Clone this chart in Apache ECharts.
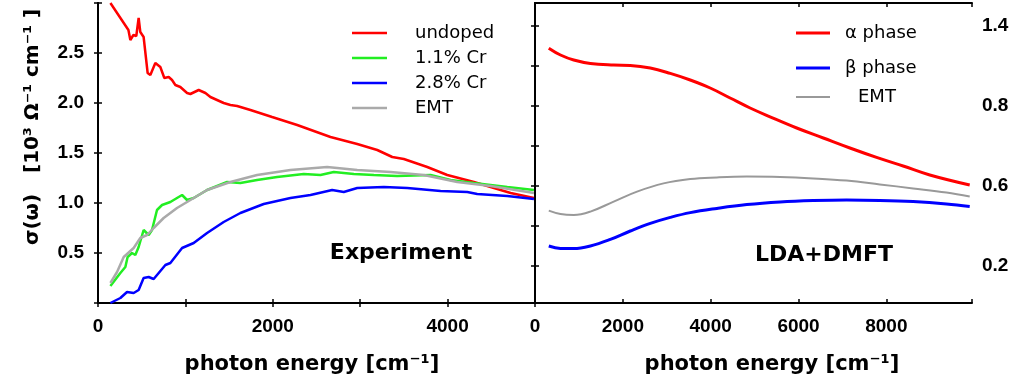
<!DOCTYPE html>
<html>
<head>
<meta charset="utf-8">
<script src="https://cdn.jsdelivr.net/npm/echarts@6/dist/echarts.min.js"></script>
<style>
  html, body { margin: 0; padding: 0; background: #fff; }
  #container { width: 1024px; height: 387px; }
</style>
</head>
<body>
<div id="container"></div>
<script>
var myChart = echarts.init(document.getElementById('container'));

// left panel: measured optical conductivity (energy in cm^-1, sigma in 10^3 / Ohm cm)
var undopedE = [142, 348, 370, 405, 438, 465, 484, 522, 568, 599, 656, 713, 759, 809, 847, 885, 942, 1019, 1057, 1152,
  1229, 1286, 1438, 1515, 1592, 1744, 1992, 2279, 2660, 2966, 3195, 3367, 3499, 3767, 3996, 4301, 4492, 4721, 4988];
var undopedS = [3.00, 2.73, 2.63, 2.68, 2.67, 2.85, 2.71, 2.66, 2.30, 2.28, 2.40, 2.36, 2.25, 2.26, 2.23, 2.18, 2.16, 2.10, 2.09, 2.13,
  2.10, 2.06, 2.00, 1.98, 1.97, 1.93, 1.86, 1.78, 1.66, 1.59, 1.53, 1.46, 1.44, 1.36, 1.28, 1.21, 1.16, 1.10, 1.05];

var cr11E = [142, 256, 313, 339, 389, 427, 465, 522, 580, 618, 675, 733, 828, 904, 962, 1019, 1095, 1248, 1477, 1629,
  1820, 2049, 2354, 2545, 2698, 2927, 3156, 3423, 3805, 4034, 4301, 4683, 4988];
var cr11S = [0.17, 0.30, 0.36, 0.46, 0.50, 0.48, 0.56, 0.73, 0.68, 0.73, 0.93, 0.98, 1.01, 1.05, 1.08, 1.03, 1.05, 1.13, 1.21, 1.20,
  1.23, 1.26, 1.29, 1.28, 1.31, 1.29, 1.28, 1.27, 1.28, 1.23, 1.20, 1.16, 1.13];

var cr28E = [142, 256, 332, 408, 465, 522, 580, 637, 771, 828, 962, 1095, 1248, 1438, 1629, 1896, 2202, 2431, 2679, 2812,
  2966, 3271, 3538, 3920, 4225, 4339, 4683, 4988];
var cr28S = [0.00, 0.05, 0.11, 0.10, 0.13, 0.25, 0.26, 0.24, 0.38, 0.40, 0.55, 0.60, 0.70, 0.81, 0.90, 0.99, 1.05, 1.08, 1.13, 1.11,
  1.15, 1.16, 1.15, 1.12, 1.11, 1.09, 1.07, 1.04];

var emtExpE = [142, 218, 294, 408, 484, 561, 637, 751, 904, 1057, 1248, 1515, 1820, 2202, 2622, 2966, 3347, 3728, 4110, 4492, 4988];
var emtExpS = [0.20, 0.31, 0.46, 0.55, 0.65, 0.68, 0.75, 0.85, 0.95, 1.03, 1.13, 1.21, 1.28, 1.33, 1.36, 1.33, 1.31, 1.28, 1.21, 1.17, 1.10];

// right panel: LDA+DMFT
var alphaE = [314, 580, 882, 1261, 1791, 2170, 2625, 3080, 3534, 3989, 4443, 4898, 5352, 5959, 6564, 7170, 7777, 8382, 8989, 9898];
var alphaS = [1.289, 1.255, 1.23, 1.213, 1.205, 1.203, 1.19, 1.163, 1.13, 1.09, 1.04, 0.99, 0.946, 0.89, 0.84, 0.79, 0.743, 0.70, 0.655, 0.605];

var betaE = [314, 580, 882, 1261, 1716, 2170, 2625, 3080, 3534, 4141, 4823, 5580, 6336, 7095, 7852, 8609, 9368, 9898];
var betaS = [0.30, 0.288, 0.287, 0.30, 0.333, 0.375, 0.413, 0.443, 0.467, 0.488, 0.507, 0.52, 0.527, 0.53, 0.528, 0.522, 0.51, 0.497];

var emtThE = [314, 580, 882, 1261, 1791, 2323, 2927, 3534, 4141, 4823, 5580, 6336, 7095, 7852, 8609, 9368, 9898];
var emtThS = [0.477, 0.46, 0.455, 0.472, 0.522, 0.572, 0.613, 0.635, 0.643, 0.647, 0.645, 0.638, 0.627, 0.608, 0.588, 0.567, 0.547];

// tick labels
var leftXLabels = [0, 2000, 4000];
var rightXLabels = [0, 2000, 4000, 6000, 8000];
var leftYLabels = [0.5, 1.0, 1.5, 2.0, 2.5];
var rightYTicks = [0.2, 0.4, 0.6, 0.8, 1.0, 1.2, 1.4];
var rightYLabelValues = [0.2, 0.6, 1.0, 1.4];
var rightYLabelTexts = ['0.2', '0.6', '0.8', '1.4'];

function zip(xs, ys) {
  return xs.map(function(x, i) { return [x, ys[i]]; });
}
function inList(list, v) {
  return list.some(function(t) { return Math.abs(t - v) < 1e-6; });
}

var tickFont = 'Liberation Sans';
var textFont = 'DejaVu Sans';

function frameAxis(extra) {
  var base = {
    type: 'value',
    axisLine: { show: true, lineStyle: { color: '#000', width: 2 } },
    axisTick: { show: true, inside: true, length: 4, lineStyle: { color: '#000', width: 1.5 } },
    axisLabel: { show: false },
    splitLine: { show: false }
  };
  return Object.assign(base, extra);
}

var labelStyle = { color: '#000', fontFamily: tickFont, fontWeight: 'bold', fontSize: 19 };

function lineSeries(name, xi, yi, data, color, width, smooth) {
  return {
    name: name, type: 'line', xAxisIndex: xi, yAxisIndex: yi,
    data: data, showSymbol: false, smooth: smooth, animation: false,
    lineStyle: { color: color, width: width }, itemStyle: { color: color }
  };
}

function legendEntry(x1, x2, y, color, width, tx, text) {
  return [
    { type: 'line', shape: { x1: x1, y1: y, x2: x2, y2: y }, style: { stroke: color, lineWidth: width } },
    { type: 'text', x: tx, y: y, style: { text: text, font: '18px "DejaVu Sans"', fill: '#000',
      align: 'left', verticalAlign: 'middle', textAlign: 'left', textVerticalAlign: 'middle' } }
  ];
}

function centerText(x, y, text, font, rot) {
  return { type: 'text', x: x, y: y, rotation: rot || 0,
    style: { text: text, font: font, fill: '#000',
      align: 'center', verticalAlign: 'middle', textAlign: 'center', textVerticalAlign: 'middle' } };
}

var graphics = []
  .concat(legendEntry(352, 387, 33, '#ff0000', 2.5, 415, 'undoped'))
  .concat(legendEntry(352, 387, 58, '#22ee22', 2.5, 415, '1.1% Cr'))
  .concat(legendEntry(352, 387, 83, '#0000ff', 2.5, 415, '2.8% Cr'))
  .concat(legendEntry(352, 387, 108, '#aaaaaa', 2.5, 415, 'EMT'))
  .concat(legendEntry(796, 830, 33, '#ff0000', 3, 845, 'α phase'))
  .concat(legendEntry(796, 830, 68, '#0000ff', 3, 845, 'β phase'))
  .concat(legendEntry(796, 830, 97, '#999999', 2, 858, 'EMT'))
  .concat([
    centerText(401, 253, 'Experiment', 'bold 22px "DejaVu Sans"'),
    centerText(824, 255, 'LDA+DMFT', 'bold 22px "DejaVu Sans"'),
    centerText(312, 365, 'photon energy [cm⁻¹]', 'bold 21px "DejaVu Sans"'),
    centerText(772, 365, 'photon energy [cm⁻¹]', 'bold 21px "DejaVu Sans"'),
    centerText(33, 127, 'σ(ω)   [10³ Ω⁻¹ cm⁻¹ ]', 'bold 20px "DejaVu Sans"', Math.PI / 2)
  ]);

var option = {
  backgroundColor: '#fff',
  animation: false,
  grid: [
    { left: 98, top: 3, width: 437, height: 300 },
    { left: 535, top: 3, width: 437, height: 300 }
  ],
  xAxis: [
    frameAxis({ gridIndex: 0, position: 'bottom', min: 0, max: 5000, interval: 1000,
      axisLabel: Object.assign({ show: true, margin: 14,
        formatter: function(v) { return inList(leftXLabels, v) ? String(v) : ''; } }, labelStyle) }),
    frameAxis({ gridIndex: 0, position: 'top', min: 0, max: 5000, interval: 1000 }),
    frameAxis({ gridIndex: 1, position: 'bottom', min: 0, max: 9950, interval: 2000,
      axisLabel: Object.assign({ show: true, margin: 14,
        formatter: function(v) { return inList(rightXLabels, v) ? String(v) : ''; } }, labelStyle) }),
    frameAxis({ gridIndex: 1, position: 'top', min: 0, max: 9950, interval: 2000 })
  ],
  yAxis: [
    frameAxis({ gridIndex: 0, position: 'left', min: 0, max: 3, interval: 0.5,
      axisLabel: Object.assign({ show: true, margin: 14,
        formatter: function(v) { return inList(leftYLabels, v) ? v.toFixed(1) : ''; } }, labelStyle) }),
    frameAxis({ gridIndex: 0, position: 'right', min: 0, max: 3, interval: 0.5 }),
    frameAxis({ gridIndex: 1, position: 'right', min: 0.015, max: 1.515,
      axisTick: { show: true, inside: true, length: 4, customValues: rightYTicks, lineStyle: { color: '#000', width: 1.5 } },
      axisLabel: Object.assign({ show: true, margin: 10, customValues: rightYLabelValues,
        formatter: function(v) {
          for (var i = 0; i < rightYLabelValues.length; i++) {
            if (Math.abs(rightYLabelValues[i] - v) < 1e-6) return rightYLabelTexts[i];
          }
          return '';
        } }, labelStyle) }),
    frameAxis({ gridIndex: 1, position: 'left', min: 0.015, max: 1.515,
      axisTick: { show: true, inside: true, length: 4, customValues: rightYTicks, lineStyle: { color: '#000', width: 1.5 } } })
  ],
  series: [
    lineSeries('undoped', 0, 0, zip(undopedE, undopedS), '#ff0000', 2.5, false),
    lineSeries('1.1% Cr', 0, 0, zip(cr11E, cr11S), '#22ee22', 2.5, false),
    lineSeries('2.8% Cr', 0, 0, zip(cr28E, cr28S), '#0000ff', 2.5, false),
    lineSeries('EMT', 0, 0, zip(emtExpE, emtExpS), '#aaaaaa', 2.5, false),
    lineSeries('α phase', 2, 2, zip(alphaE, alphaS), '#ff0000', 3, 0.4),
    lineSeries('β phase', 2, 2, zip(betaE, betaS), '#0000ff', 3, 0.4),
    lineSeries('EMT theory', 2, 2, zip(emtThE, emtThS), '#999999', 2, 0.4)
  ],
  graphic: graphics
};

myChart.setOption(option);
</script>
</body>
</html>
